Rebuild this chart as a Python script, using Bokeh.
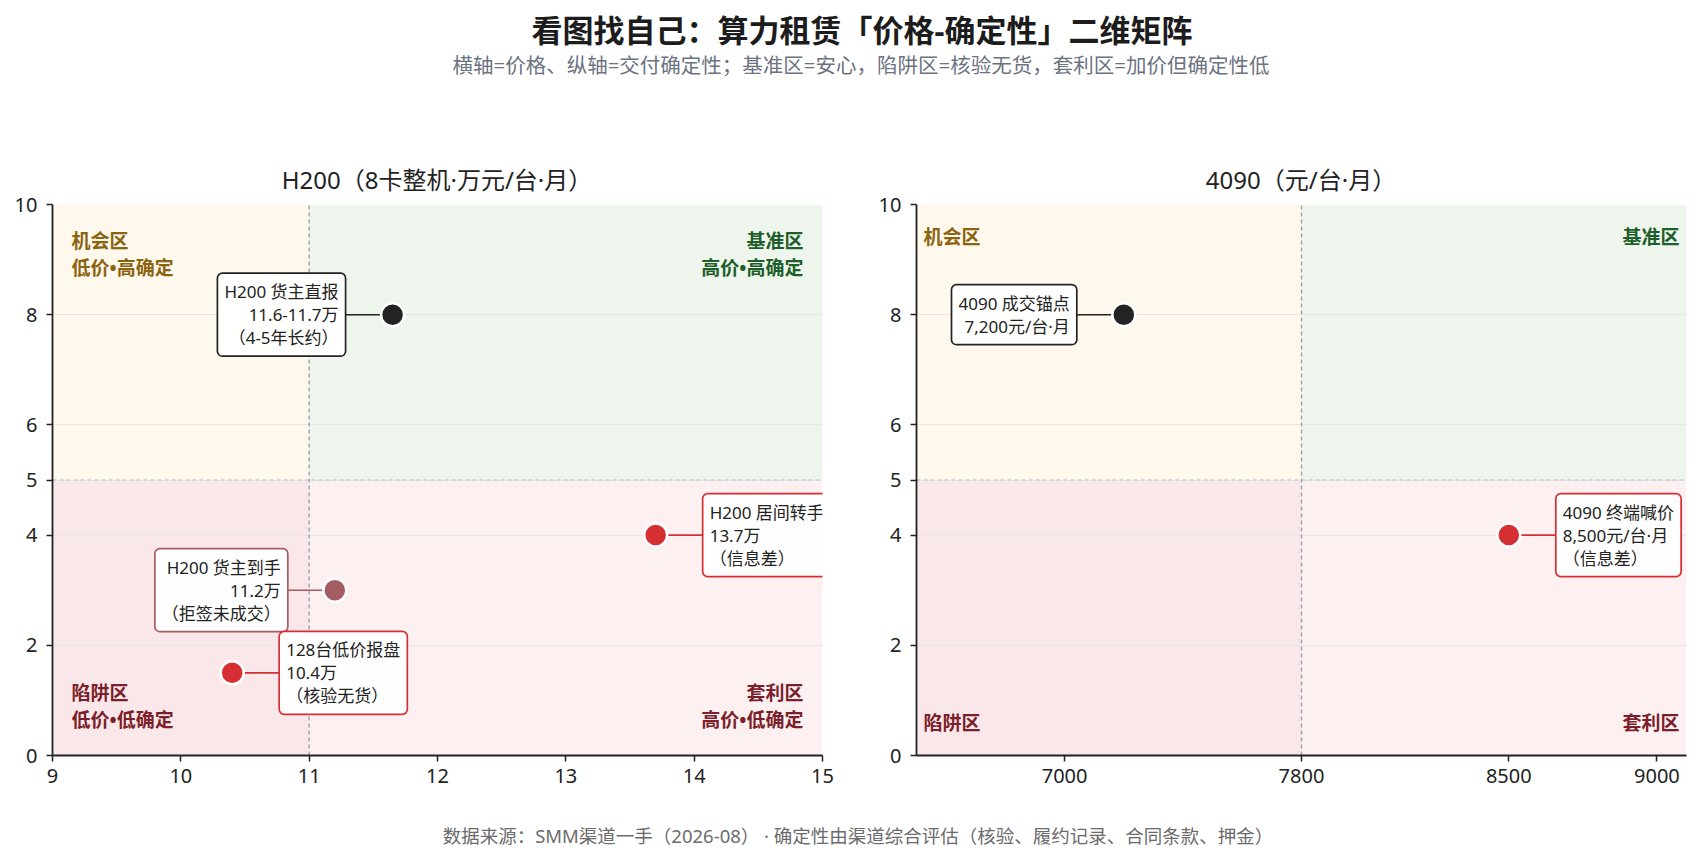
from bokeh.plotting import figure
from bokeh.models import Range1d, FixedTicker, Label, Div
from bokeh.layouts import column, row
from bokeh.embed import file_html
from bokeh.resources import INLINE
from bokeh.core.properties import value

FONT = "Noto Sans, Noto Sans CJK SC"
CSS_FONT = "'Noto Sans', 'Noto Sans CJK SC'"

# ---------------- texts ----------------
title_text = "看图找自己：算力租赁「价格-确定性」二维矩阵"
subtitle_text = "横轴=价格、纵轴=交付确定性；基准区=安心，陷阱区=核验无货，套利区=加价但确定性低"
footer_text = "数据来源：SMM渠道一手（2026-08） · 确定性由渠道综合评估（核验、履约记录、合同条款、押金）"
h200_title = "H200（8卡整机·万元/台·月）"
g4090_title = "4090（元/台·月）"

# ---------------- data ----------------
Y_MIN, Y_MAX = 0, 10
Y_TICKS = [0, 2, 4, 5, 6, 8, 10]
CERT_THRESHOLD = 5

h200_x_range = [9, 15]
h200_x_ticks = [9, 10, 11, 12, 13, 14, 15]
h200_price_threshold = 11
h200_names = ["H200 货主直报", "H200 居间转手", "H200 货主到手", "128台低价报盘"]
h200_price_text = ["11.6-11.7万", "13.7万", "11.2万", "10.4万"]
h200_notes = ["（4-5年长约）", "（信息差）", "（拒签未成交）", "（核验无货）"]
h200_price = [11.65, 13.7, 11.2, 10.4]
h200_certainty = [8, 4, 3, 1.5]
h200_kind = ["anchor", "broker", "rejected", "lowball"]
h200_zones = ["机会区\n低价•高确定", "基准区\n高价•高确定", "陷阱区\n低价•低确定", "套利区\n高价•低确定"]

g4090_x_range = [6500, 9100]
g4090_x_ticks = [7000, 7800, 8500, 9000]
g4090_price_threshold = 7800
g4090_names = ["4090 成交锚点", "4090 终端喊价"]
g4090_price_text = ["7,200元/台·月", "8,500元/台·月"]
g4090_notes = ["", "（信息差）"]
g4090_price = [7200, 8500]
g4090_certainty = [8, 4]
g4090_kind = ["anchor", "broker"]
g4090_zones = ["机会区", "基准区", "陷阱区", "套利区"]

# ---------------- styles ----------------
KIND_STYLE = {
    "anchor": dict(color="#232323", side="left"),
    "broker": dict(color="#D62F33", side="right"),
    "rejected": dict(color="#A35D61", side="left"),
    "lowball": dict(color="#D62F33", side="right"),
}
QUAD_FILL = ["#FFF8EC", "#EDF5EC", "#FAE7E9", "#FCF0F0"]
ZONE_COLORS = ["#8A6410", "#1D5E2A", "#7A1F2B", "#7A1F2B"]
FRAME_W = 770
FRAME_H = 551
GAP = 47


def make_panel(xr, x_ticks, x_thr, names, ptxt, notes, xs, ys, kinds, zones,
               width, bl, br, inset, top_off, bot_off):
    x_lo, x_hi = xr
    p = figure(width=width, height=12 + FRAME_H + 45,
               x_range=Range1d(x_lo, x_hi), y_range=Range1d(Y_MIN, Y_MAX),
               output_backend="svg", toolbar_location=None,
               min_border_left=bl, min_border_right=br,
               min_border_top=12, min_border_bottom=45)
    p.outline_line_color = None
    p.background_fill_color = "white"
    p.border_fill_color = "white"

    # quadrant backgrounds
    p.quad(left=[x_lo, x_thr, x_lo, x_thr], right=[x_thr, x_hi, x_thr, x_hi],
           bottom=[CERT_THRESHOLD, CERT_THRESHOLD, Y_MIN, Y_MIN],
           top=[Y_MAX, Y_MAX, CERT_THRESHOLD, CERT_THRESHOLD],
           fill_color=QUAD_FILL, line_color=None, level="image")

    # grid & axes
    p.xgrid.visible = False
    p.ygrid.ticker = FixedTicker(ticks=Y_TICKS)
    p.ygrid.grid_line_color = "#E4E6EC"
    p.ygrid.grid_line_width = 1.2
    p.xaxis.ticker = FixedTicker(ticks=x_ticks)
    p.yaxis.ticker = FixedTicker(ticks=Y_TICKS)
    for ax in (p.xaxis[0], p.yaxis[0]):
        ax.axis_line_color = "#222222"
        ax.axis_line_width = 1.8
        ax.major_tick_line_color = "#222222"
        ax.major_tick_line_width = 1.5
        ax.major_tick_out = 6
        ax.major_tick_in = 0
        ax.minor_tick_line_color = None
        ax.major_label_text_font = FONT
        ax.major_label_text_font_size = "20px"
        ax.major_label_text_color = "#222222"
    p.xaxis.major_label_standoff = 7
    p.yaxis.major_label_standoff = 9

    # threshold lines
    p.segment(x0=[x_lo], y0=[CERT_THRESHOLD], x1=[x_hi], y1=[CERT_THRESHOLD],
              line_color="#C9CED8", line_width=1.4, line_dash="4 3")
    p.segment(x0=[x_thr], y0=[Y_MIN], x1=[x_thr], y1=[Y_MAX],
              line_color="#9AA0AC", line_width=1.4, line_dash="4 3")

    # zone labels
    p.text(x=[x_lo, x_hi, x_lo, x_hi], y=[Y_MAX, Y_MAX, Y_MIN, Y_MIN], text=zones,
           x_offset=[inset, -inset, inset, -inset],
           y_offset=[top_off, top_off, -bot_off, -bot_off],
           text_align=["left", "right", "left", "right"],
           text_baseline=["top", "top", "bottom", "bottom"],
           text_color=ZONE_COLORS, text_font=value(FONT), text_font_style="bold",
           text_font_size="19px", text_line_height=1.06)

    upp = (x_hi - x_lo) / FRAME_W
    colors = [KIND_STYLE[k]["color"] for k in kinds]
    sides = [KIND_STYLE[k]["side"] for k in kinds]
    x_end = [x - GAP * upp if s == "left" else x + GAP * upp for x, s in zip(xs, sides)]
    p.segment(x0=xs, y0=ys, x1=x_end, y1=ys, line_color=colors, line_width=1.6)
    p.scatter(x=xs, y=ys, size=23, fill_color=colors, line_color="white", line_width=2.5)

    for n, t, nt, x, y, c, s in zip(names, ptxt, notes, xs, ys, colors, sides):
        txt = "\n".join([v for v in (n, t, nt) if v])
        lab = Label(x=x, y=y, text=txt,
                    x_offset=-GAP if s == "left" else GAP,
                    text_align="right" if s == "left" else "left",
                    text_baseline="middle",
                    text_font=FONT, text_font_size="17px", text_color="#222222",
                    text_line_height=1.0,
                    background_fill_color="white", background_fill_alpha=0.93,
                    border_line_color=c, border_line_width=1.7,
                    border_radius=5, padding=7)
        p.add_layout(lab)
    return p


p1 = make_panel(h200_x_range, h200_x_ticks, h200_price_threshold, h200_names,
                h200_price_text, h200_notes, h200_price, h200_certainty, h200_kind,
                h200_zones, width=44 + FRAME_W + 40, bl=44, br=40,
                inset=19, top_off=23, bot_off=22)
p2 = make_panel(g4090_x_range, g4090_x_ticks, g4090_price_threshold, g4090_names,
                g4090_price_text, g4090_notes, g4090_price, g4090_certainty, g4090_kind,
                g4090_zones, width=54 + FRAME_W + 7, bl=54, br=7,
                inset=7, top_off=19, bot_off=20)

header_html = f"""
<div style="position:relative;width:1685px;height:184px;font-family:{CSS_FONT};">
  <div style="position:absolute;left:354px;top:0px;width:1000px;text-align:center;line-height:44px;font-size:31px;font-weight:700;color:#1c1c1c;white-space:nowrap;">{title_text}</div>
  <div style="position:absolute;left:353px;top:43px;width:1000px;text-align:center;line-height:28px;font-size:20.5px;color:#6B7280;white-space:nowrap;">{subtitle_text}</div>
  <div style="position:absolute;left:29px;top:158px;width:800px;text-align:center;line-height:28px;font-size:24px;color:#222222;white-space:nowrap;">{h200_title}</div>
  <div style="position:absolute;left:893px;top:158px;width:800px;text-align:center;line-height:28px;font-size:24px;color:#222222;white-space:nowrap;">{g4090_title}</div>
</div>
"""
footer_html = f"""
<div style="position:relative;width:1685px;height:55px;font-family:{CSS_FONT};">
  <div style="position:absolute;left:350px;top:22px;width:1000px;text-align:center;line-height:28px;font-size:18.5px;color:#6b6b6b;white-space:nowrap;">{footer_text}</div>
</div>
"""
header = Div(text=header_html, width=1685, height=184, margin=(0, 0, 0, 0))
footer = Div(text=footer_html, width=1685, height=55, margin=(0, 0, 0, 0))

layout = column(header, row(p1, p2), footer, margin=(8, 0, 0, 8))
open("out.html", "w").write(file_html(layout, INLINE))
